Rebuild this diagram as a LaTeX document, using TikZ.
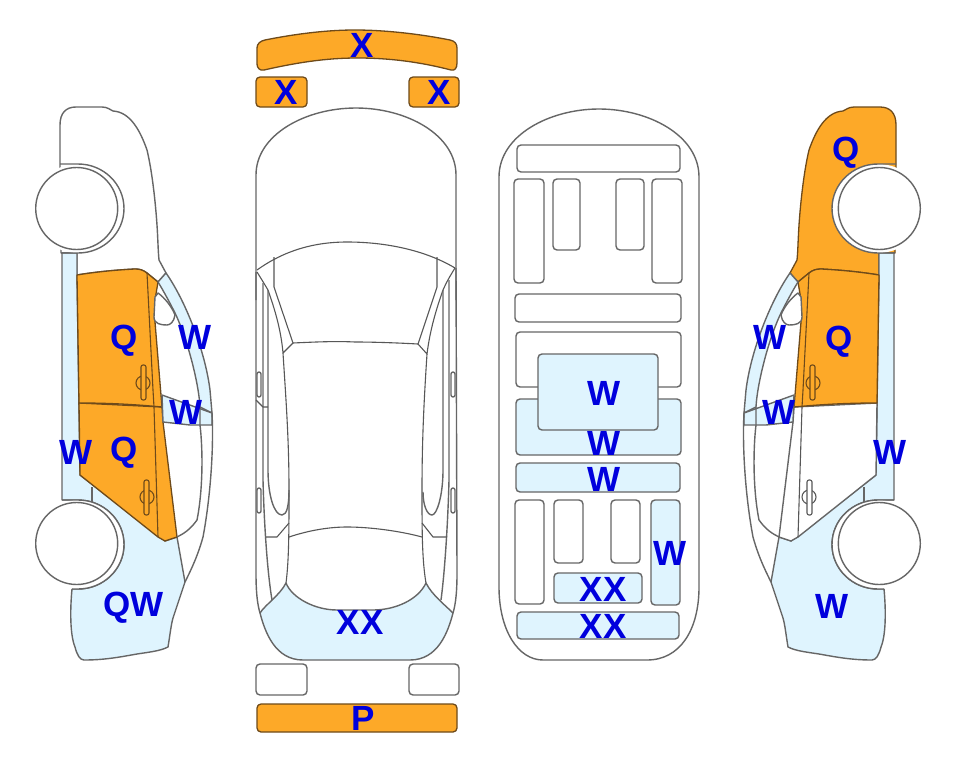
\documentclass[tikz,border=0pt]{standalone}
\usepackage{fontspec}
\setmainfont{Liberation Sans}
\definecolor{panelorange}{HTML}{FDA928}
\definecolor{panelblue}{HTML}{DFF4FE}
\definecolor{edgegray}{HTML}{666666}
\definecolor{edgebrown}{HTML}{6E4A1A}
\definecolor{codeblue}{HTML}{0000DD}
\tikzset{
  edge/.style={draw=edgegray,line width=1.4pt,line join=round},
  thin edge/.style={draw=edgegray!85!black,line width=1.1pt,line join=round},
  damaged/.style={fill=panelorange,draw=edgebrown,line width=1.3pt,line join=round},
  repaired/.style={fill=panelblue,edge},
  panel/.style={edge,rounded corners=4pt},
  brown trim/.style={draw=edgebrown,line width=1.1pt,line join=round},
  gray trim/.style={thin edge},
  code/.style={text=codeblue,font=\bfseries\fontsize{35}{35}\selectfont,inner sep=0pt},
}
% One side view of the car.
% #1 bonnet, #2 front door, #3 rear door, #4 rear door trim colour, #5 rear door handle fill.
\newcommand{\sidecar}[5]{
  % bonnet and roof outline
  \path[#1] (60,164) -- (60,125)
    .. controls (60,113) and (66,107) .. (76,107)
    -- (102,107) .. controls (108,107) and (110,110) .. (113,111)
    .. controls (130,112) and (140,130) .. (147,150)
    .. controls (153,175) and (156,210) .. (157,225)
    .. controls (158,240) and (158,250) .. (159,260)
    -- (166,273) -- (158,282)
    -- (147,273) .. controls (143,270) and (140,269) .. (135,269)
    .. controls (115,270) and (95,272) .. (77,275)
    -- (77,253) -- (61,253) -- cycle;
  % lower body panel
  \path[repaired] (62,253) -- (62,500) -- (78,500) arc[start angle=-90,end angle=90,x radius=46,y radius=44.5]
    -- (72,589)
    .. controls (70,610) and (70,635) .. (75,647)
    .. controls (77,655) and (80,660) .. (84,660)
    .. controls (105,660) and (120,657) .. (137,654)
    .. controls (150,652) and (160,651) .. (168,647)
    .. controls (170,635) and (171,625) .. (173,618)
    -- (185,582) -- (177,537) -- (165,541) -- (80,475) -- (77,275) -- (77,253) -- cycle;
  \draw[edge] (92,487) -- (92,502);
  % doors
  \path[#3] (79,403) -- (162,407) -- (163,422) -- (177,537) -- (165,541) -- (158,537) -- (80,475) -- cycle;
  \path[#2] (77,275) .. controls (95,272) and (115,270) .. (135,269)
    .. controls (140,269) and (143,270) .. (147,273)
    -- (158,282) -- (155,300) -- (155,322) -- (160,383) -- (162,407)
    .. controls (130,404) and (105,403) .. (79,403) -- cycle;
  \draw[brown trim] (147,273) -- (153,390) -- (154,407);
  \draw[#4] (154,407) -- (158,537);
  % windscreen strip and quarter glass
  \path[repaired] (166,273) .. controls (185,300) and (205,350) .. (210,390) -- (212,413)
    -- (200,407) .. controls (199,385) and (188,340) .. (175,313)
    .. controls (170,303) and (163,290) .. (158,282) -- cycle;
  \path[repaired] (162,395) -- (212,413) -- (212,425) -- (190,425) -- (163,422) -- cycle;
  % body line down to the sill
  \draw[edge] (212,413) .. controls (214,450) and (210,500) .. (203,537)
    .. controls (198,555) and (192,568) .. (185,582);
  \draw[edge] (200,407) -- (200,425) .. controls (203,450) and (203,490) .. (197,520)
    .. controls (190,530) and (183,534) .. (177,537);
  % door handles
  \draw[brown trim] (143,383) circle[radius=7];
  \draw[brown trim,fill=panelorange,rounded corners=2pt] (141,365) rectangle (146,400);
  \draw[#4] (147,497) circle[radius=7];
  \draw[#4,fill=#5,rounded corners=2pt] (144,480) rectangle (149,515);
  % mirror
  \path[edge,fill=white] (158,293) .. controls (165,298) and (172,307) .. (175,315)
    .. controls (174,322) and (170,325) .. (167,325)
    .. controls (161,325) and (154,324) .. (154,317) -- (155,297) -- cycle;
  % wheel arches and wheels
  \path[fill=white] (78,208.5) ellipse[x radius=46,y radius=44.5];
  \path[fill=white] (78,544.5) ellipse[x radius=46,y radius=44.5];
  \draw[edge] (60,164) -- (78,164) arc[start angle=-90,end angle=90,x radius=46,y radius=44.5] -- (61,253);
  \draw[edge] (62,500) -- (78,500) arc[start angle=-90,end angle=90,x radius=46,y radius=44.5] -- (72,589);
  \draw[edge,fill=white] (76.7,208.5) circle[radius=41];
  \draw[edge,fill=white] (76.7,543.5) circle[radius=41];
}
\begin{document}
\begin{tikzpicture}[x=1pt,y=1pt,yscale=-1]
\useasboundingbox[fill=white] (0,0) rectangle (963,768);

% left side view
\begin{scope}
  \sidecar{edge,fill=white}{damaged}{damaged}{brown trim}{panelorange}
\end{scope}

% right side view, drawn as the mirror image of the left one
\begin{scope}[xshift=956pt,xscale=-1]
  \sidecar{damaged}{damaged}{edge,fill=white}{gray trim}{white}
\end{scope}

% front bumper pieces above the top view
\path[damaged] (265,40) .. controls (300,33) and (330,30) .. (355,30)
  .. controls (385,30) and (420,34) .. (450,40)
  .. controls (455,41) and (457,44) .. (457,48) -- (457,63)
  .. controls (457,68) and (455,71) .. (451,70)
  .. controls (420,62) and (390,58) .. (357,58)
  .. controls (325,58) and (295,63) .. (264,70)
  .. controls (260,71) and (257,68) .. (257,64) -- (257,48)
  .. controls (257,44) and (260,41) .. (265,40) -- cycle;
\path[damaged,rounded corners=4pt] (256,77) rectangle (307,107);
\path[damaged,rounded corners=4pt] (409,77) rectangle (459,107);

% top view of the body
\path[edge] (256,300) -- (256,175)
  .. controls (256,135) and (305,108) .. (356,108)
  .. controls (407,108) and (456,135) .. (456,175) -- (456,300);
\draw[edge] (256,272) -- (256,573) .. controls (256,590) and (257,603) .. (260,613);
\draw[edge] (456,268) -- (457,573) .. controls (457,590) and (456,603) .. (453,613);
\path[repaired] (260,613) .. controls (265,605) and (280,595) .. (286,583)
  .. controls (292,598) and (315,610) .. (337,610) -- (373,610)
  .. controls (395,610) and (418,600) .. (426,583)
  .. controls (432,595) and (445,605) .. (453,613)
  .. controls (448,632) and (438,660) .. (410,660) -- (303,660)
  .. controls (275,660) and (265,632) .. (260,613) -- cycle;

% windscreen and pillars
\draw[thin edge] (257,270) .. controls (285,250) and (315,242) .. (347,242)
  .. controls (385,242) and (425,250) .. (455,268);
\draw[thin edge] (257,272) .. controls (262,280) and (265,285) .. (268,290)
  .. controls (275,310) and (281,330) .. (283,353) -- (293,343);
\draw[thin edge] (274,257) -- (274,287) -- (293,343) .. controls (315,342) and (335,341) .. (355,342)
  .. controls (375,342) and (400,343) .. (418,344) -- (437,287) -- (437,257);
\draw[thin edge] (455,268) .. controls (450,276) and (446,283) .. (443,290)
  .. controls (436,310) and (430,330) .. (427,354) -- (418,344);

% roof sides down to the rear
\draw[thin edge] (283,353) .. controls (286,400) and (289,440) .. (289,490)
  .. controls (289,530) and (289,560) .. (286,583);
\draw[thin edge] (427,354) .. controls (424,400) and (422,440) .. (422,490)
  .. controls (422,530) and (422,560) .. (426,583);
\draw[thin edge] (289,537) .. controls (310,530) and (330,527) .. (347,527)
  .. controls (370,527) and (400,531) .. (422,537);

% door lines along both flanks
\draw[edge] (263,283) -- (263,480) .. controls (264,520) and (267,570) .. (272,600);
\draw[edge] (268,290) -- (268,470) .. controls (268,495) and (274,515) .. (282,515)
  .. controls (287,515) and (289,505) .. (289,490);
\draw[edge] (449,280) -- (449,480) .. controls (448,520) and (445,570) .. (441,600);
\draw[edge] (443,290) -- (443,470) .. controls (443,495) and (437,515) .. (432,515)
  .. controls (427,515) and (423,505) .. (423,492);
\draw[thin edge] (256,400) -- (263,407) -- (268,407);
\draw[thin edge] (266,537) -- (277,537) -- (289,523);
\draw[thin edge] (447,537) -- (433,537) -- (422,523);

% door handles on the top view
\draw[edge,rounded corners=2pt] (257,372) rectangle (261,397);
\draw[edge,rounded corners=2pt] (257,488) rectangle (261,513);
\draw[edge,rounded corners=2pt] (451,372) rectangle (455,397);
\draw[edge,rounded corners=2pt] (451,488) rectangle (455,513);

% rear bumper pieces below the top view
\path[panel,fill=white] (256,664) rectangle (307,695);
\path[panel,fill=white] (409,664) rectangle (459,695);
\path[damaged,rounded corners=4pt] (257,704) rectangle (457,732);

% floor plan outline
\path[edge] (499,587) -- (499,177)
  .. controls (499,135) and (550,109) .. (599,109)
  .. controls (648,109) and (699,135) .. (699,177)
  -- (699,587)
  .. controls (699,630) and (680,660) .. (647,660)
  -- (543,660)
  .. controls (518,660) and (499,630) .. (499,587) -- cycle;

% floor plan panels
\path[panel] (517,145) rectangle (680,172);
\path[panel] (514,179) rectangle (544,283);
\path[panel] (553,179) rectangle (580,250);
\path[panel] (616,179) rectangle (644,250);
\path[panel] (652,179) rectangle (682,283);
\path[panel] (515,294) rectangle (681,322);
\path[panel] (516,332) rectangle (681,387);
\path[panel,fill=panelblue] (516,399) rectangle (681,455);
\path[panel,fill=panelblue] (538,354) rectangle (658,430);
\path[panel,fill=panelblue] (516,463) rectangle (680,492);
\path[panel] (515,500) rectangle (544,604);
\path[panel] (554,500) rectangle (583,563);
\path[panel] (611,500) rectangle (640,563);
\path[panel,fill=panelblue] (651,500) rectangle (680,605);
\path[panel,fill=panelblue] (554,573) rectangle (642,603);
\path[panel,fill=panelblue] (517,612) rectangle (679,639);

% condition codes
\node[code] (topx)   at (362.5,45)  {X};
\node[code] (leftx)  at (286.5,92)  {X};
\node[code] (rightx) at (439.5,92)  {X};
\node[code] (rearxx) at (360,622) {XX};
\node[code] (rearp)  at (363,718) {P};

\node[code] (floorw1)  at (604,393) {W};
\node[code] (floorw2)  at (604,443) {W};
\node[code] (floorw3)  at (604,479) {W};
\node[code] (floorw4)  at (670.5,553) {W};
\node[code] (floorxx1) at (603,589) {XX};
\node[code] (floorxx2) at (603,626) {XX};

\node[code] (lq1) at (124.5,341) {Q};
\node[code] (lw1) at (195.5,337) {W};
\node[code] (lw2) at (186.5,412) {W};
\node[code] (lw3) at (76.5,452)  {W};
\node[code] (lq2) at (124.5,453) {Q};
\node[code] (lqw) at (133.5,608) {QW};

\node[code] (rq1) at (846.5,153) {Q};
\node[code] (rq2) at (839.5,342) {Q};
\node[code] (rw1) at (770.5,337) {W};
\node[code] (rw2) at (779.5,412) {W};
\node[code] (rw3) at (890.5,452) {W};
\node[code] (rw4) at (832.5,606) {W};
\end{tikzpicture}
\end{document}
